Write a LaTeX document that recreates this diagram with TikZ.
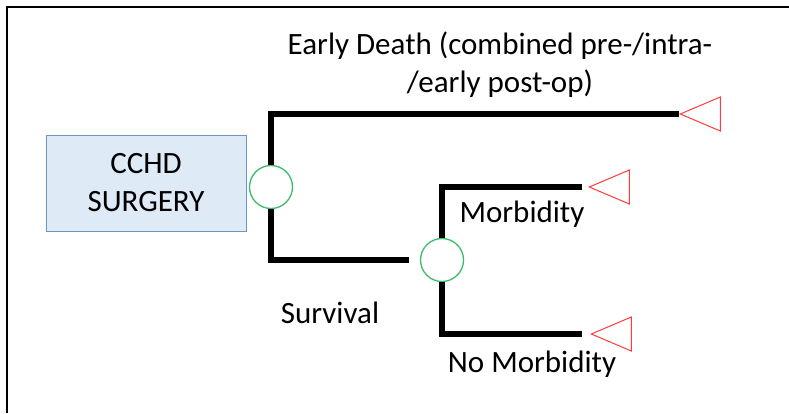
\documentclass[tikz,border=0pt]{standalone}
\usepackage{fontspec}
\setmainfont{Carlito}
\usepackage{tikz}
\usetikzlibrary{shapes.geometric}
\usetikzlibrary{positioning}
\definecolor{boxblue}{HTML}{DEEAF6}
\definecolor{boxedge}{HTML}{6F93C3}
\definecolor{chancegreen}{HTML}{3CBB6A}
\definecolor{termred}{HTML}{FF3B3B}

\begin{document}
\begin{tikzpicture}[x=1pt, y=-1pt, every node/.style={font=\fontsize{31}{38}\selectfont}]
		\tikzstyle{branch}=[line width=5.5pt, black]
		\tikzstyle{chance}=[circle, minimum size=43, inner sep=0, draw=chancegreen, line width=1.3pt]
		\tikzstyle{payoff}=[isosceles triangle, shape border rotate=180, isosceles triangle stretches, minimum width=34, minimum height=40, inner sep=0, draw=termred, line width=1pt]

		\useasboundingbox (0,0) rectangle (789,413);
		\draw[line width=2.5pt] (789,7) -| (7,413);

		\node[rectangle, fill=boxblue, draw=boxedge, line width=1pt, minimum width=200, minimum height=96, align=center] (surgery) at (146,183) {CCHD\\SURGERY};

		\node[chance] (c1) at (271,187) {};
		\node[chance] (c2) at (442,260) {};

		\node[payoff, anchor=apex] (t1) at (679,114) {};
		\node[payoff, anchor=apex] (t2) at (588,187) {};
		\node[payoff, anchor=apex] (t3) at (590,334) {};

		%branches
		\draw[branch] (c1.north) |- (t1.apex);
		\draw[branch] (c1.south) |- ([xshift=-11pt]c2.west);
		\draw[branch, shorten >=6pt] (c2.north) |- (t2.apex);
		\draw[branch, shorten >=8pt] (c2.south) |- (t3.apex);

		\node[anchor=base, align=center] (death) at (500,92) {Early Death (combined pre-/intra-\\/early post-op)};
		\node[anchor=base] (surv) at (330,323) {Survival};
		\node[anchor=base] (morb) at (522,222) {Morbidity};
		\node[anchor=base] (nomorb) at (532,372) {No Morbidity};
\end{tikzpicture}
\end{document}
